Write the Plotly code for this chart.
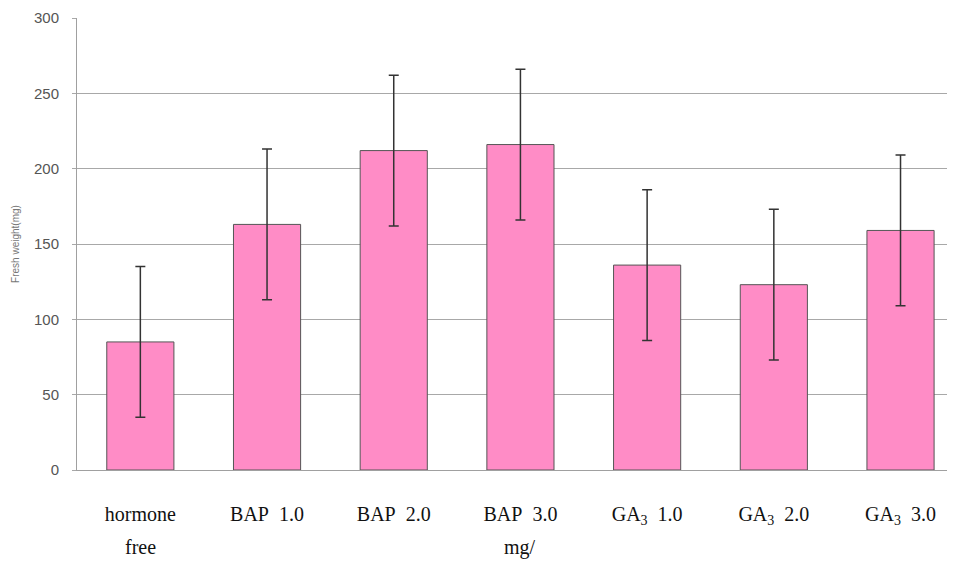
import plotly.graph_objects as go

categories = ["hormone", "BAP\u00a0\u00a01.0", "BAP\u00a0\u00a02.0", "BAP\u00a0\u00a03.0",
              "GA<sub>3</sub>\u00a0\u00a01.0", "GA<sub>3</sub>\u00a0\u00a02.0", "GA<sub>3</sub>\u00a0\u00a03.0"]
second_line = ["free", "", "", "mg/", "", "", ""]
fresh_weight = [85, 163, 212, 216, 136, 123, 159]
error_sd = [50, 50, 50, 50, 50, 50, 50]
y_ticks = [0, 50, 100, 150, 200, 250, 300]

x_idx = list(range(len(categories)))

fig = go.Figure()
fig.add_trace(go.Bar(
    x=x_idx, y=fresh_weight,
    marker=dict(color="#FF8CC6", line=dict(color="#555555", width=1)),
    error_y=dict(type="data", array=error_sd, visible=True,
                 color="#333333", thickness=1.5, width=5),
    width=0.53,
))

for i, t in enumerate(second_line):
    if t:
        fig.add_annotation(x=i, y=0, xref="x", yref="y", text=t, showarrow=False,
                           yanchor="top", yshift=-64,
                           font=dict(family="Liberation Serif", size=20, color="#111111"))

# page body adds an ~8px offset, so margins are compensated
fig.update_layout(
    width=955, height=562,
    margin=dict(l=69, r=8, t=10, b=100, autoexpand=False),
    paper_bgcolor="white", plot_bgcolor="white",
    showlegend=False,
    xaxis=dict(
        range=[-0.5, 6.43], automargin=False,
        tickvals=x_idx, ticktext=categories,
        tickfont=dict(family="Liberation Serif", size=20, color="#111111"),
        showgrid=False, zeroline=False,
        showline=True, linecolor="#A0A0A0", linewidth=1,
        ticks="outside", ticklen=26, tickcolor="rgba(0,0,0,0)",
    ),
    yaxis=dict(
        range=[0, 300], tickvals=y_ticks, automargin=False,
        tickfont=dict(family="Liberation Sans", size=15, color="#555555"),
        showgrid=True, gridcolor="#A8A8A8", gridwidth=1,
        zeroline=False,
        showline=True, linecolor="#A0A0A0", linewidth=1,
        ticks="outside", ticklen=4, tickcolor="#A8A8A8",
        ticklabelstandoff=10,
        title=dict(text="Fresh weight(mg)", standoff=12,
                   font=dict(family="Liberation Sans", size=10, color="#777777")),
    ),
)

fig.write_html("out.html")
